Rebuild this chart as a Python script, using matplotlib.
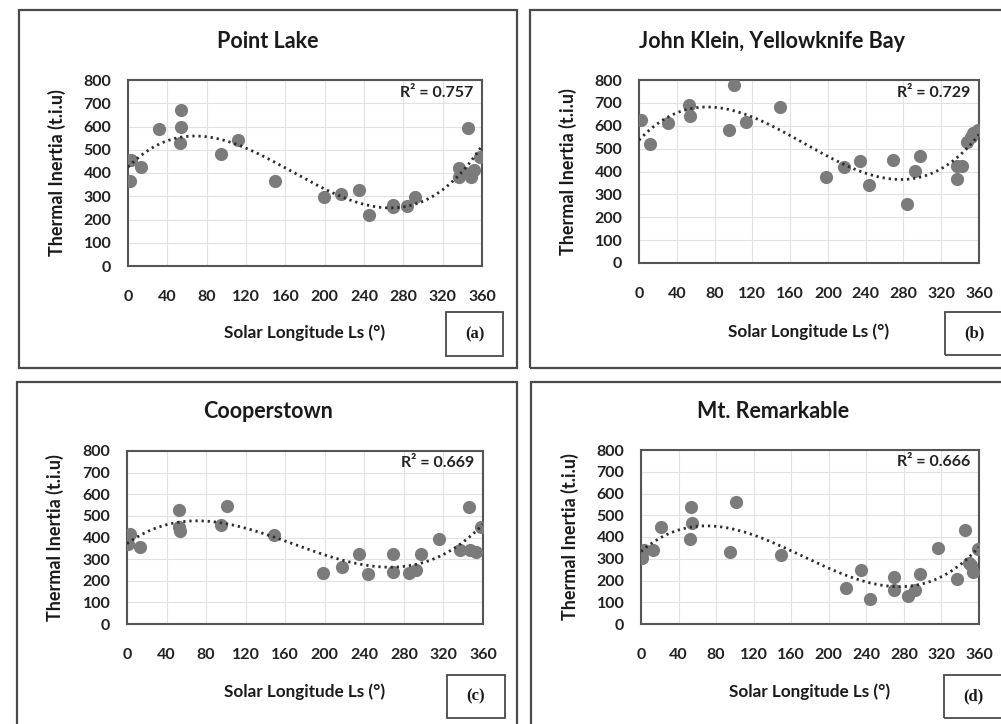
import numpy as np
import matplotlib
matplotlib.use('Agg')
import matplotlib.pyplot as plt
from matplotlib.patches import Rectangle

# data (Ls in degrees, thermal inertia in t.i.u)
point_lake_ls = [2, 3, 13, 32, 54, 54, 53, 95, 112, 149, 199, 217, 235, 245, 269, 269, 284, 292, 337, 337, 346, 343, 349, 352, 358]
point_lake_ti = [365, 455, 427, 589, 671, 596, 527, 480, 542, 366, 295, 309, 329, 218, 262, 252, 259, 297, 420, 384, 592, 398, 384, 412, 470]

john_klein_ls = [2, 12, 31, 53, 54, 95, 101, 113, 149, 198, 217, 234, 244, 269, 284, 292, 297, 337, 337, 342, 347, 351, 354, 359]
john_klein_ti = [625, 521, 611, 691, 643, 582, 778, 618, 684, 374, 419, 445, 342, 451, 259, 404, 468, 422, 368, 422, 531, 553, 567, 582]

cooperstown_ls = [1, 3, 13, 53, 53, 54, 95, 101, 149, 198, 217, 235, 244, 269, 269, 285, 292, 297, 316, 337, 346, 347, 353, 358]
cooperstown_ti = [372, 415, 357, 529, 449, 431, 457, 546, 412, 234, 262, 326, 231, 326, 240, 234, 252, 326, 391, 342, 542, 342, 334, 449]

mt_remarkable_ls = [1, 3, 13, 21, 53, 54, 52, 95, 101, 149, 218, 234, 244, 269, 269, 284, 292, 297, 316, 337, 345, 349, 352, 354, 359]
mt_remarkable_ti = [303, 341, 338, 448, 540, 466, 390, 329, 563, 315, 167, 249, 115, 216, 157, 127, 157, 231, 349, 208, 430, 280, 272, 239, 346]

titles = ['Point Lake', 'John Klein, Yellowknife Bay', 'Cooperstown', 'Mt. Remarkable']
r2_labels = ['R² = 0.757', 'R² = 0.729', 'R² = 0.669', 'R² = 0.666']
panel_tags = ['(a)', '(b)', '(c)', '(d)']
x_ticks = [0, 40, 80, 120, 160, 200, 240, 280, 320, 360]
y_ticks = [0, 100, 200, 300, 400, 500, 600, 700, 800]

series = [(point_lake_ls, point_lake_ti), (john_klein_ls, john_klein_ti),
          (cooperstown_ls, cooperstown_ti), (mt_remarkable_ls, mt_remarkable_ti)]

W, H = 1001, 724
plt.rcParams['font.family'] = ['Lato', 'DejaVu Sans']
plt.rcParams['font.weight'] = 'bold'

fig = plt.figure(figsize=(W / 100, H / 100), dpi=100)
fig.patch.set_facecolor('white')

def fx(px):
    return px / W

def fy(py):
    return 1 - py / H

# layout in pixels: outer box, axes box, title centre, xlabel y, ylabel x, tag box
layout = [
    dict(box=(19, 10, 517, 368), ax=(128, 80, 482, 266), title=(268, 42), xlab=333, ylab=57, tag=(446, 312, 503, 356)),
    dict(box=(530, 10, 1015, 368), ax=(639, 80, 979, 263), title=(772, 42), xlab=332, ylab=568, tag=(945, 312, 1003, 355)),
    dict(box=(17, 382, 517, 745), ax=(127, 451, 483, 624), title=(268, 412), xlab=692, ylab=55, tag=(447, 675, 505, 718)),
    dict(box=(531, 382, 1015, 745), ax=(641, 450, 979, 624), title=(773, 412), xlab=692, ylab=570, tag=(944, 675, 1003, 718)),
]

for i, (lo, (ls, ti)) in enumerate(zip(layout, series)):
    bx0, by0, bx1, by1 = lo['box']
    fig.patches.append(Rectangle((fx(bx0), fy(by1)), fx(bx1 - bx0), (by1 - by0) / H,
                                 transform=fig.transFigure, fill=False, lw=1.6, ec='#4a4a4a'))

    ax0, ay0, ax1, ay1 = lo['ax']
    ax = fig.add_axes([fx(ax0), fy(ay1), fx(ax1 - ax0), (ay1 - ay0) / H])
    ax.plot(ls, ti, 'o', color='#7b7b7b', ms=9.5, mec='none', zorder=3)

    # third order polynomial trend, as in the original spreadsheet
    coef = np.polyfit(ls, ti, 3)
    xx = np.linspace(0, 360, 200)
    ax.plot(xx, np.polyval(coef, xx), color='#2b2b2b', lw=2.0, ls=(0, (0.8, 1.4)), zorder=4)

    ax.set_xlim(0, 360)
    ax.set_ylim(0, 800)
    ax.set_xticks(x_ticks)
    ax.set_yticks(y_ticks)
    ax.grid(True, color='#e2e2e2', lw=0.8)
    ax.set_axisbelow(True)
    for s in ax.spines.values():
        s.set_color('#555555')
        s.set_linewidth(1.5)
    ax.tick_params(length=0, labelsize=11.5, colors='#222222')
    ax.tick_params(axis='x', pad=17)
    ax.tick_params(axis='y', pad=12)
    for lab in ax.get_xticklabels() + ax.get_yticklabels():
        lab.set_fontweight('bold')

    ax.text(0.975, 0.93, r2_labels[i], transform=ax.transAxes, ha='right', va='center',
            fontsize=11.5, fontweight='bold', color='#222222')

    tx, ty = lo['title']
    fig.text(fx(tx), fy(ty), titles[i], ha='center', va='center', fontsize=15.5, fontweight='bold', color='#1a1a1a')
    fig.text(fx((ax0 + ax1) / 2), fy(lo['xlab']), 'Solar Longitude Ls (°)', ha='center', va='center',
             fontsize=12.3, fontweight='bold', color='#1a1a1a')
    fig.text(fx(lo['ylab']), fy((ay0 + ay1) / 2), 'Thermal Inertia (t.i.u)', ha='center', va='center',
             rotation=90, fontsize=13, fontweight='bold', color='#1a1a1a')

    gx0, gy0, gx1, gy1 = lo['tag']
    fig.patches.append(Rectangle((fx(gx0), fy(gy1)), fx(gx1 - gx0), (gy1 - gy0) / H,
                                 transform=fig.transFigure, fill=False, lw=1.3, ec='#4a4a4a'))
    fig.text(fx((gx0 + gx1) / 2), fy((gy0 + gy1) / 2), panel_tags[i], ha='center', va='center',
             fontsize=12, fontweight='bold', family='Liberation Serif', color='#1a1a1a')

fig.savefig('out.png', dpi=100)
